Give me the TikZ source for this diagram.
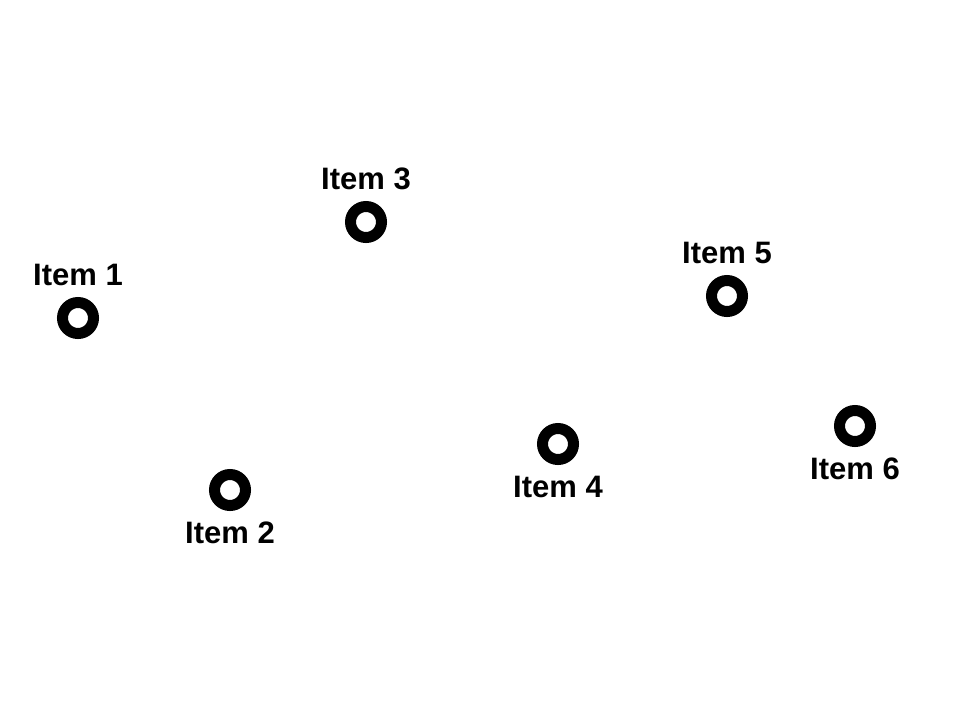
\documentclass[tikz,border=0pt]{standalone}
\usepackage{fontspec}
\setmainfont{Liberation Sans}
\usepackage{tikz}

\begin{document}
\begin{tikzpicture}[x=1pt, y=-1pt,
  ring/.style={circle, draw=black, line width=11pt, minimum size=31pt, inner sep=0pt},
  itemlabel/.style={font=\fontsize{31}{34}\selectfont\bfseries, inner sep=0pt, label distance=11pt}]
  \useasboundingbox (0,0) rectangle (960,720);
  \node[ring, label={[itemlabel]above:Item 1}] (i1) at (78,318) {};
  \node[ring, label={[itemlabel]below:Item 2}] (i2) at (230,490) {};
  \node[ring, label={[itemlabel]above:Item 3}] (i3) at (366,222) {};
  \node[ring, label={[itemlabel]below:Item 4}] (i4) at (558,444) {};
  \node[ring, label={[itemlabel]above:Item 5}] (i5) at (727,296) {};
  \node[ring, label={[itemlabel]below:Item 6}] (i6) at (855,426) {};
\end{tikzpicture}
\end{document}
